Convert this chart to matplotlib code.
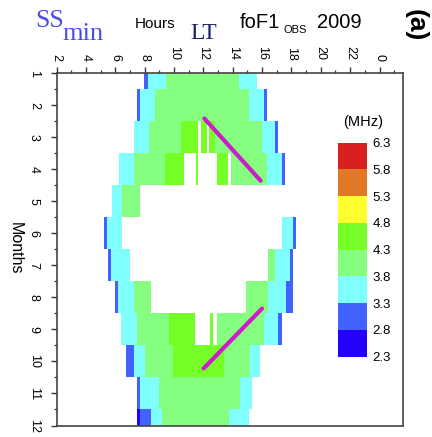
import numpy as np
import matplotlib
matplotlib.use("Agg")
import matplotlib.pyplot as plt
from matplotlib.colors import ListedColormap, BoundaryNorm

plt.rcParams['font.family'] = ['Liberation Sans', 'DejaVu Sans']

# ---- data: foF1 (MHz) classes by month, segments in local time (hours) ----
months = list(range(1, 13))
nan = np.nan
edges_m1 = [7.99, 8.21, 9.48, 14.40, 15.65]
vals_m1 = [3.0, 3.5, 4.0, 3.5]
edges_m2 = [7.49, 7.72, 8.74, 15.08, 16.10, 16.33]
vals_m2 = [3.0, 3.5, 4.0, 3.5, 3.0]
edges_m3 = [7.26, 8.28, 10.49, 11.62, 11.84, 12.27, 12.37, 12.81, 15.98, 16.90, 17.08]
vals_m3 = [3.5, 4.0, 4.5, nan, 4.5, nan, 4.5, 4.0, 3.5, 3.0]
edges_m4 = [6.29, 7.26, 9.41, 10.66, 11.47, 11.67, 12.92, 13.68, 13.88, 16.33, 17.39, 17.57]
vals_m4 = [3.5, 4.0, 4.5, nan, 4.5, nan, 4.5, nan, 4.0, 3.5, 3.0]
edges_m5 = [5.79, 6.46, 7.72]
vals_m5 = [3.5, 4.0]
edges_m6 = [5.24, 5.46, 6.46, 17.39, 18.14, 18.31]
vals_m6 = [3.0, 3.5, nan, 3.5, 3.0]
edges_m7 = [5.51, 5.74, 6.98, 16.40, 16.90, 17.91, 18.14]
vals_m7 = [3.0, 3.5, nan, 4.0, 3.5, 3.0]
edges_m8 = [5.97, 6.20, 7.26, 8.46, 14.91, 16.40, 17.62, 18.08]
vals_m8 = [3.0, 3.5, 4.0, nan, 4.0, 3.5, 3.0]
edges_m9 = [6.42, 7.49, 9.68, 11.46, 12.47, 12.63, 12.92, 16.10, 17.12, 17.35]
vals_m9 = [3.5, 4.0, 4.5, nan, 4.5, nan, 4.0, 3.5, 3.0]
edges_m10 = [6.73, 7.26, 8.01, 9.91, 13.38, 15.19, 15.87]
vals_m10 = [3.0, 3.5, 4.0, 4.5, 4.0, 3.5]
edges_m11 = [7.49, 7.72, 8.96, 14.51, 15.31]
vals_m11 = [3.0, 3.5, 4.0, 3.5]
edges_m12 = [7.49, 7.72, 8.46, 9.19, 13.72, 15.13]
vals_m12 = [2.5, 3.0, 3.5, 4.0, 3.5]

edges_all = [edges_m1, edges_m2, edges_m3, edges_m4, edges_m5, edges_m6,
             edges_m7, edges_m8, edges_m9, edges_m10, edges_m11, edges_m12]
vals_all = [vals_m1, vals_m2, vals_m3, vals_m4, vals_m5, vals_m6,
            vals_m7, vals_m8, vals_m9, vals_m10, vals_m11, vals_m12]

# trend lines (hour, month)
line1_hours = [12.07, 15.90]
line1_months = [2.42, 4.36]
line2_hours = [12.02, 16.00]
line2_months = [10.22, 8.35]

levels = [2.3, 2.8, 3.3, 3.8, 4.3, 4.8, 5.3, 5.8, 6.3]
level_colors = ['#2400ff', '#4262ff', '#80ffff', '#86ff80', '#76ff26',
                '#ffff30', '#e07826', '#d8201e']
xtick_hours = list(range(2, 25, 2))

cmap = ListedColormap(level_colors)
norm = BoundaryNorm(levels, cmap.N)

W, H = 432, 437
fig = plt.figure(figsize=(W / 100, H / 100), dpi=100)
ax = fig.add_axes([56.5 / W, 1 - 425.5 / H, (403 - 56.5) / W, (425.5 - 73) / H])

for m, e, v in zip(months, edges_all, vals_all):
    vv = np.ma.masked_invalid(np.array(v, dtype=float))[None, :]
    ax.pcolormesh(np.array(e), [m - 0.5, m + 0.5], vv, cmap=cmap, norm=norm,
                  shading='flat', edgecolors='none', antialiased=False)

ax.plot(line1_hours, line1_months, color='#cc1ccc', lw=3.0, solid_capstyle='round')
ax.plot(line2_hours, line2_months, color='#cc1ccc', lw=3.0, solid_capstyle='round')

ax.set_xlim(2.0, 25.6)
ax.set_ylim(12, 1)
ax.xaxis.tick_top()
ax.set_xticks(xtick_hours)
ax.set_xticklabels([str(h % 24) for h in xtick_hours], rotation=-90, fontsize=9)
ax.set_xticks(list(range(3, 26, 2)), minor=True)
ax.set_yticks(months)
ax.set_yticklabels([str(m) for m in months], rotation=-90, va='center', fontsize=9)
ax.set_yticks([m + 0.5 for m in months[:-1]], minor=True)
ax.tick_params(axis='both', which='major', direction='out', length=4, width=1,
               color='#333333', pad=5)
ax.tick_params(axis='both', which='minor', direction='out', length=2.5, width=0.9,
               color='#333333')
ax.tick_params(axis='y', which='major', pad=8)
for s in ax.spines.values():
    s.set_color('#444444')
    s.set_linewidth(1.2)

fig.text(15 / W, 1 - 248 / H, 'Months', rotation=-90, ha='center', va='center', fontsize=11.5)

# colorbar inside the axes
cax = fig.add_axes([337.7 / W, 1 - 356.7 / H, 29 / W, 214 / H])
cb = fig.colorbar(matplotlib.cm.ScalarMappable(norm=norm, cmap=cmap), cax=cax,
                  ticks=levels, spacing='uniform')
cb.outline.set_visible(False)
cax.tick_params(length=0, pad=4, labelsize=9.5)
cax.set_yticklabels(['%.1f' % l for l in levels])
fig.text(363 / W, 1 - 122 / H, '(MHz)', ha='center', va='center', fontsize=10.5)

# header texts
fig.text(35 / W, 1 - 27 / H, 'SS', family='Liberation Serif', fontsize=18.5,
         color='#4b4be6', ha='left', va='baseline')
fig.text(62 / W, 1 - 40 / H, 'min', family='Liberation Serif', fontsize=19,
         color='#4b4be6', ha='left', va='baseline')
fig.text(135 / W, 1 - 28 / H, 'Hours', fontsize=11, ha='left', va='baseline')
fig.text(190 / W, 1 - 39 / H, 'LT', family='Liberation Serif', fontsize=17,
         color='#1e1e6e', ha='left', va='baseline')
fig.text(240 / W, 1 - 27.5 / H, 'foF1', fontsize=14.5, ha='left', va='baseline')
fig.text(284 / W, 1 - 33 / H, 'OBS', fontsize=8, ha='left', va='baseline')
fig.text(317 / W, 1 - 27.5 / H, '2009', fontsize=14.5, ha='left', va='baseline')
fig.text(416 / W, 1 - 25 / H, '(a)', fontsize=19, fontweight='bold', rotation=-90,
         ha='center', va='center')

fig.savefig('out.png', dpi=100, facecolor='white')
